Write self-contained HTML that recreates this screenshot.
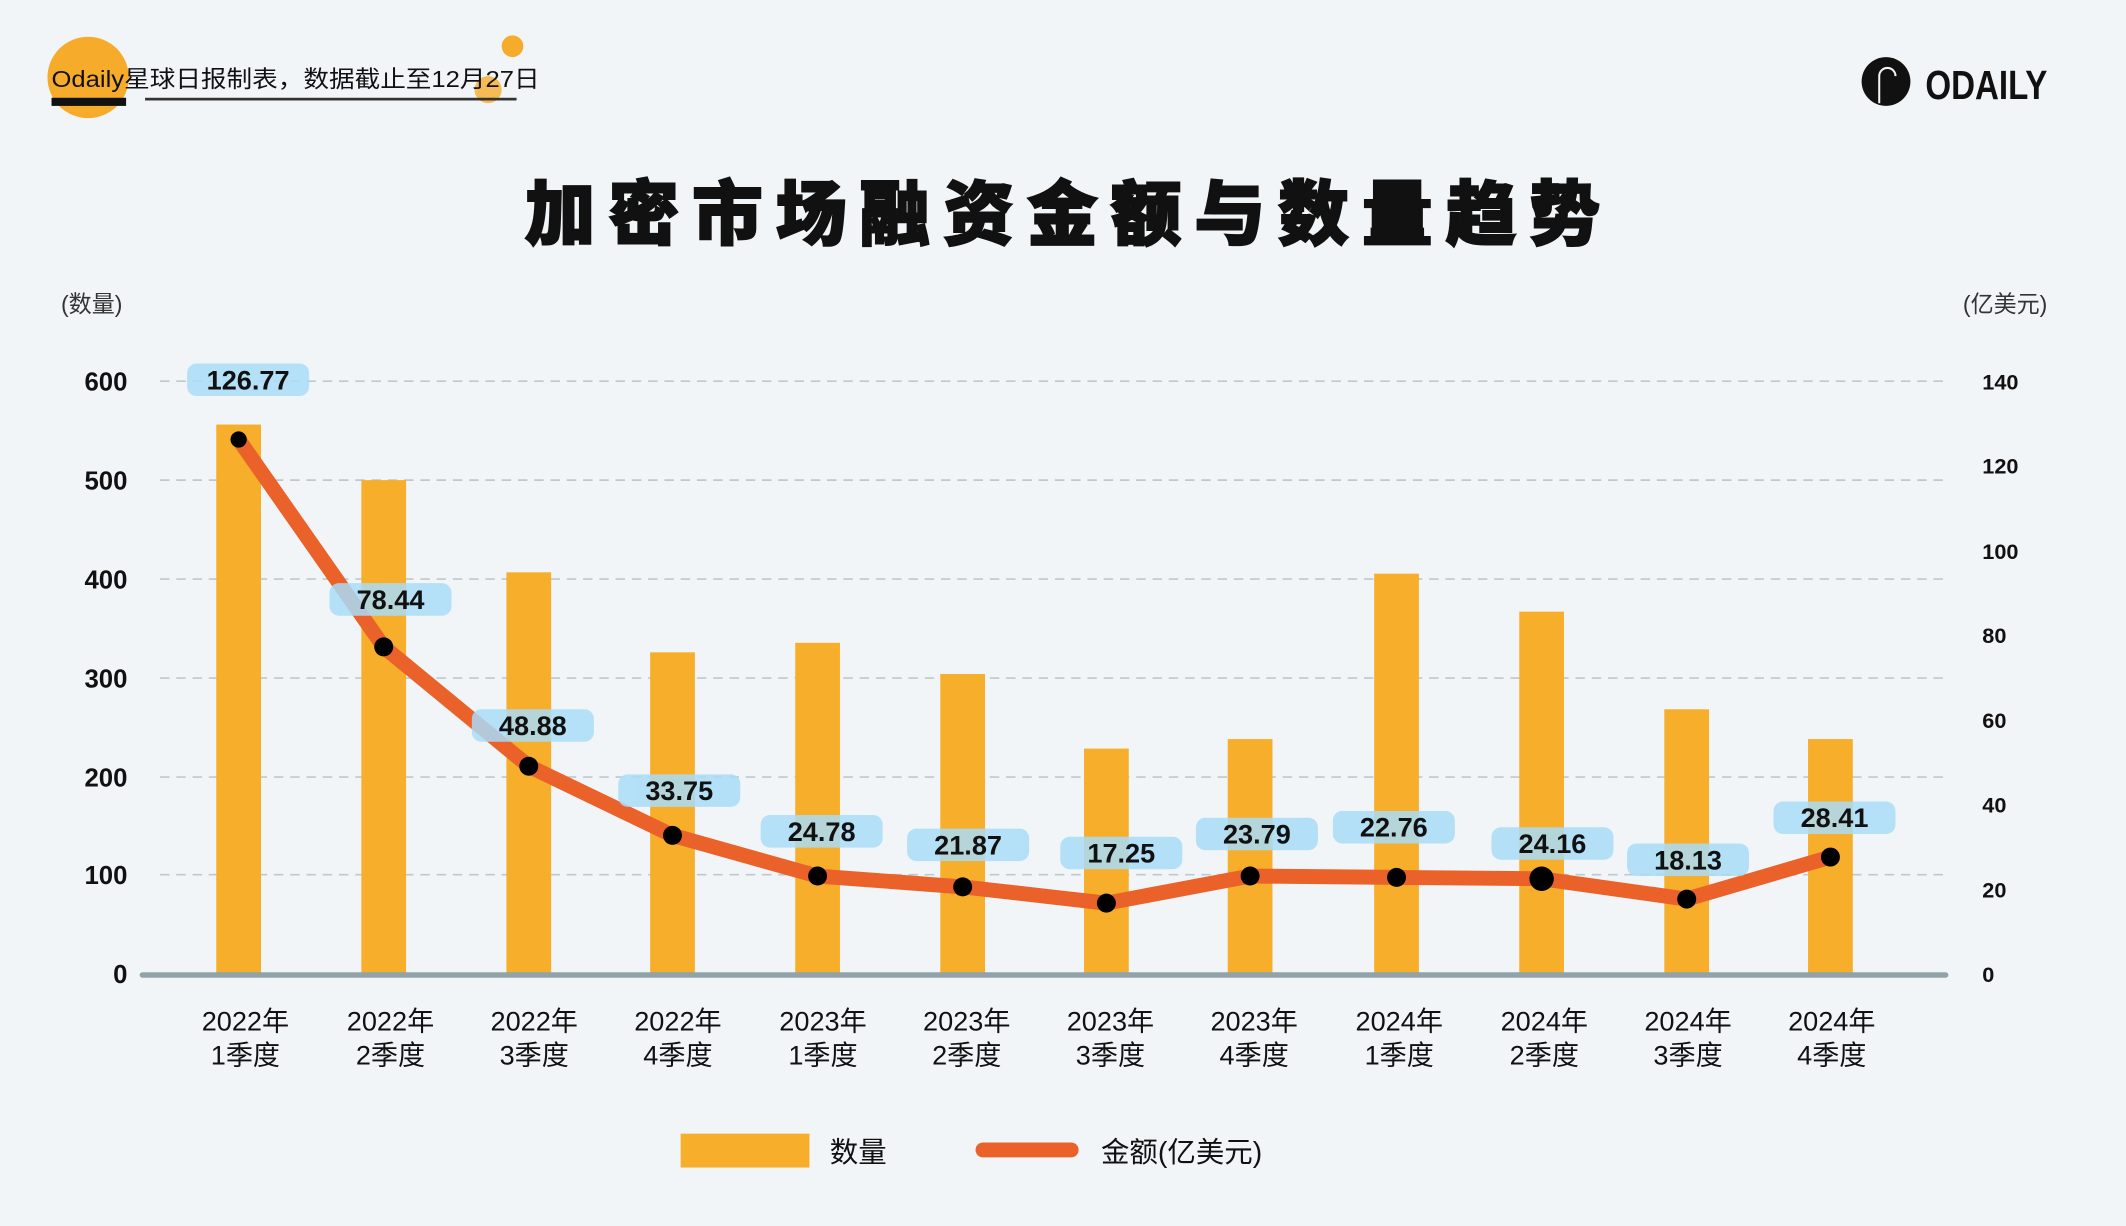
<!DOCTYPE html>
<html><head><meta charset="utf-8"><style>
html,body{margin:0;padding:0;background:#f2f5f7;}
svg{display:block;}
text{font-family:"Liberation Sans","Noto Sans CJK SC",sans-serif;}
</style></head><body>
<svg width="2126" height="1226" viewBox="0 0 1568 904" xmlns="http://www.w3.org/2000/svg">
<rect width="1568" height="904" fill="#f2f5f7"/>
<!-- header -->
<circle cx="65" cy="57" r="30" fill="#f6ac2a"/>
<circle cx="378" cy="34" r="8" fill="#f6ac2a"/>
<circle cx="360" cy="66" r="10" fill="#f6ac2a" opacity="0.8"/>
<text x="38" y="64" font-size="17" fill="#111" textLength="360" lengthAdjust="spacingAndGlyphs">Odaily星球日报制表，数据截止至12月27日</text>
<rect x="38" y="72" width="55" height="6" fill="#111"/>
<rect x="107" y="72" width="274" height="2" fill="#333"/>
<!-- logo -->
<circle cx="1391" cy="60" r="18" fill="#111"/>
<path d="M1386 76 V56 a6 6 0 0 1 12 0" stroke="#f2f5f7" stroke-width="1.5" fill="none"/>
<text x="1420" y="73" font-size="30" font-weight="bold" fill="#111" textLength="90" lengthAdjust="spacingAndGlyphs">ODAILY</text>
<!-- title -->
<text x="387" y="176" font-size="52" font-weight="900" fill="#111" textLength="793" lengthAdjust="spacing" stroke="#111" stroke-width="1.5">加密市场融资金额与数量趋势</text>
<text x="45" y="230" font-size="17" fill="#333">(数量)</text>
<text x="1510" y="230" font-size="17" fill="#333" text-anchor="end">(亿美元)</text>
<!-- gridlines -->
<g stroke="#bfc8cc" stroke-width="1.2" stroke-dasharray="7,5">
<line x1="118" y1="281" x2="1435" y2="281"/>
<line x1="118" y1="354" x2="1435" y2="354"/>
<line x1="118" y1="427" x2="1435" y2="427"/>
<line x1="118" y1="500" x2="1435" y2="500"/>
<line x1="118" y1="573" x2="1435" y2="573"/>
<line x1="118" y1="645" x2="1435" y2="645"/>
</g>
<g font-size="19" font-weight="bold" fill="#111" text-anchor="end">
<text x="94" y="288">600</text><text x="94" y="361">500</text><text x="94" y="434">400</text>
<text x="94" y="507">300</text><text x="94" y="580">200</text><text x="94" y="652">100</text><text x="94" y="725">0</text>
</g>
<g font-size="16" font-weight="bold" fill="#111">
<text x="1462" y="287">140</text><text x="1462" y="349">120</text><text x="1462" y="412">100</text>
<text x="1462" y="474">80</text><text x="1462" y="537">60</text><text x="1462" y="599">40</text>
<text x="1462" y="662">20</text><text x="1462" y="724">0</text>
</g>
<!-- bars -->
<g fill="#f6ae2b">
<rect x="159.5" y="313" width="33" height="405"/>
<rect x="266.5" y="354" width="33" height="364"/>
<rect x="373.5" y="422" width="33" height="296"/>
<rect x="479.5" y="481" width="33" height="237"/>
<rect x="586.5" y="474" width="33" height="244"/>
<rect x="693.5" y="497" width="33" height="221"/>
<rect x="799.5" y="552" width="33" height="166"/>
<rect x="905.5" y="545" width="33" height="173"/>
<rect x="1013.5" y="423" width="33" height="295"/>
<rect x="1120.5" y="451" width="33" height="267"/>
<rect x="1227.5" y="523" width="33" height="195"/>
<rect x="1333.5" y="545" width="33" height="173"/>
</g>
<line x1="105" y1="719" x2="1435" y2="719" stroke="#8fa3a8" stroke-width="4" stroke-linecap="round"/>
<!-- line -->
<polyline points="176,324 283,477 390,565 496,616 603,646 710,654 816,666 922,646 1030,647 1137,648 1244,663 1350,632" fill="none" stroke="#ea6129" stroke-width="11" stroke-linejoin="round" stroke-linecap="round"/>
<g fill="#000">
<circle cx="176" cy="324" r="6"/><circle cx="283" cy="477" r="7"/><circle cx="390" cy="565" r="7"/>
<circle cx="496" cy="616" r="7"/><circle cx="603" cy="646" r="7"/><circle cx="710" cy="654" r="7"/>
<circle cx="816" cy="666" r="7"/><circle cx="922" cy="646" r="7"/><circle cx="1030" cy="647" r="7"/>
<circle cx="1137" cy="648" r="9"/><circle cx="1244" cy="663" r="7"/><circle cx="1350" cy="632" r="7"/>
</g>
<!-- value labels -->
<g fill="#a9dcf8" opacity="0.85">
<rect x="138" y="268" width="90" height="24" rx="7"/>
<rect x="243" y="430" width="90" height="24" rx="7"/>
<rect x="348" y="523" width="90" height="24" rx="7"/>
<rect x="456" y="571" width="90" height="24" rx="7"/>
<rect x="561" y="601" width="90" height="24" rx="7"/>
<rect x="669" y="611" width="90" height="24" rx="7"/>
<rect x="782" y="617" width="90" height="24" rx="7"/>
<rect x="882" y="603" width="90" height="24" rx="7"/>
<rect x="983" y="598" width="90" height="24" rx="7"/>
<rect x="1100" y="610" width="90" height="24" rx="7"/>
<rect x="1200" y="622" width="90" height="24" rx="7"/>
<rect x="1308" y="591" width="90" height="24" rx="7"/>
</g>
<g font-size="20" font-weight="bold" fill="#111" text-anchor="middle">
<text x="183" y="287">126.77</text><text x="288" y="449">78.44</text><text x="393" y="542">48.88</text>
<text x="501" y="590">33.75</text><text x="606" y="620">24.78</text><text x="714" y="630">21.87</text>
<text x="827" y="636">17.25</text><text x="927" y="622">23.79</text><text x="1028" y="617">22.76</text>
<text x="1145" y="629">24.16</text><text x="1245" y="641">18.13</text><text x="1353" y="610">28.41</text>
</g>
<!-- x labels -->
<g font-size="20" fill="#111" text-anchor="middle">
<text x="181" y="760">2022年</text><text x="181" y="785">1季度</text>
<text x="288" y="760">2022年</text><text x="288" y="785">2季度</text>
<text x="394" y="760">2022年</text><text x="394" y="785">3季度</text>
<text x="500" y="760">2022年</text><text x="500" y="785">4季度</text>
<text x="607" y="760">2023年</text><text x="607" y="785">1季度</text>
<text x="713" y="760">2023年</text><text x="713" y="785">2季度</text>
<text x="819" y="760">2023年</text><text x="819" y="785">3季度</text>
<text x="925" y="760">2023年</text><text x="925" y="785">4季度</text>
<text x="1032" y="760">2024年</text><text x="1032" y="785">1季度</text>
<text x="1139" y="760">2024年</text><text x="1139" y="785">2季度</text>
<text x="1245" y="760">2024年</text><text x="1245" y="785">3季度</text>
<text x="1351" y="760">2024年</text><text x="1351" y="785">4季度</text>
</g>
<!-- legend -->
<rect x="502" y="836" width="95" height="25" fill="#f6ae2b"/>
<text x="612" y="857" font-size="21" fill="#111">数量</text>
<line x1="725" y1="848" x2="790" y2="848" stroke="#ea6129" stroke-width="11" stroke-linecap="round"/>
<text x="812" y="857" font-size="21" fill="#111">金额(亿美元)</text>
</svg>
</body></html>
